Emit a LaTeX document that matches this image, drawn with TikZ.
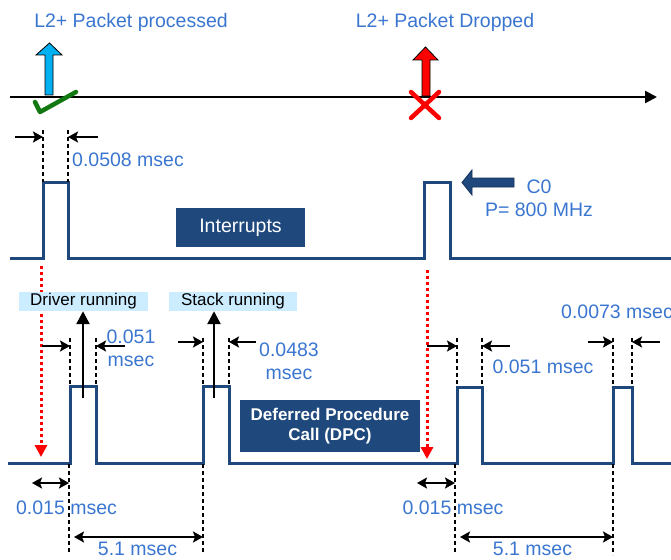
\documentclass[tikz,border=0pt]{standalone}
\usepackage{fontspec}
\setmainfont{Liberation Sans}
\usetikzlibrary{arrows.meta}
\definecolor{txtblue}{RGB}{58,118,208}
\definecolor{navy}{RGB}{31,73,125}
\definecolor{navyline}{RGB}{20,50,90}
\definecolor{lblue}{RGB}{204,236,255}
\definecolor{cyanA}{RGB}{0,176,240}
\definecolor{chk}{RGB}{18,120,18}
\tikzset{
  wave/.style={navy, line width=3pt, line join=miter},
  dimline/.style={black, line width=2pt, dash pattern=on 4pt off 3pt},
  dimarrow/.style={black, line width=2pt, -{Stealth[length=10pt,width=11pt,inset=2pt]}},
  dblarrow/.style={black, line width=2pt, {Stealth[length=10pt,width=11pt,inset=2pt]}-{Stealth[length=10pt,width=11pt,inset=2pt]}},
  uparrow/.style={black, line width=2.5pt, -{Triangle[length=13pt,width=13pt]}},
  redarrow/.style={red, line width=3pt, dash pattern=on 3pt off 3pt, -{Triangle[length=12pt,width=12pt]}},
  bluetxt/.style={text=txtblue, font=\fontsize{19.5}{23}\selectfont, inner sep=0pt, align=center},
  navybox/.style={fill=navy, text=white, inner sep=0pt, align=center},
  lbl/.style={fill=lblue, text=black, inner sep=0pt, font=\fontsize{17}{19}\selectfont},
}
\begin{document}
\begin{tikzpicture}[x=1pt,y=-1pt]
\useasboundingbox (0,0) rectangle (671,559);

% ---------- top timeline ----------
\coordinate (tl0) at (10,97);
\coordinate (tl1) at (657,97);
\draw[black, line width=2.5pt, -{Triangle[length=12pt,width=12pt]}] (tl0) -- (tl1);

\node[bluetxt] (lproc) at (131,22) {L2+ Packet processed};
\node[bluetxt] (ldrop) at (445,22) {L2+ Packet Dropped};

% blue block arrow
\draw[fill=cyanA, draw=black, line width=0.8pt]
  (45,95) -- (45,55) -- (36,55) -- (49.5,43) -- (62,55) -- (53,55) -- (53,95) -- cycle;
% green check
\draw[chk, line width=4.5pt, line cap=round, line join=round] (35,102) -- (40,112) -- (76,92);

% red block arrow
\draw[fill=red, draw=black, line width=0.8pt]
  (422,96) -- (422,60) -- (413,60) -- (425.5,47) -- (438,60) -- (430,60) -- (430,96) -- cycle;
% red cross
\draw[red, line width=4.5pt, line cap=round] (411,92) -- (439,118) (439,92) -- (411,118);

% ---------- interrupts ----------
\coordinate (ia) at (43,182);
\coordinate (ib) at (68,182);
\coordinate (ic) at (424,182);
\coordinate (id) at (450,182);
\draw[wave] (10,258) -- (43,258) -- (ia) -- (ib) -- (68,258) -- (424,258) -- (ic) -- (id) -- (450,258) -- (672,258);

\node[navybox, minimum width=129pt, minimum height=39pt, font=\fontsize{19.5}{23}\selectfont] (intr) at (240.5,227.5) {Interrupts};

% 0.0508 dimension
\coordinate (d1a) at (43,130);
\coordinate (d1b) at (68,130);
\draw[dimline] (d1a) -- (ia);
\draw[dimline] (d1b) -- (ib);
\coordinate (d1l) at (15,137);
\coordinate (d1r) at (98,137);
\draw[dimarrow] (d1l) -- (43,137);
\draw[dimarrow] (d1r) -- (68,137);
\node[bluetxt, anchor=west] (t0508) at (72,160) {0.0508 msec};

% C0 block arrow
\draw[fill=navy, draw=navyline, line width=0.8pt]
  (462,182.5) -- (472,170) -- (472,178) -- (514,178) -- (514,187) -- (472,187) -- (472,195) -- cycle;
\node[bluetxt] (c0) at (539,187) {C0};
\node[bluetxt] (pfreq) at (539,210) {P= 800 MHz};

% ---------- red dotted arrows ----------
\coordinate (r1s) at (41,266);
\coordinate (r1e) at (41,457);
\coordinate (r2s) at (427,270);
\coordinate (r2e) at (427,459);
\draw[redarrow] (r1s) -- (r1e);
\draw[redarrow] (r2s) -- (r2e);

% ---------- DPC waveform ----------
\draw[wave] (8,463) -- (70,463) -- (70,386) -- (96,386) -- (96,463) -- (203,463) -- (203,386) -- (229,386) -- (229,463)
  -- (457,463) -- (457,387) -- (482,387) -- (482,463) -- (613,463) -- (613,387) -- (632,387) -- (632,463) -- (672,463);

\node[navybox, minimum width=180pt, minimum height=52pt, font=\bfseries\fontsize{17}{20}\selectfont] (dpc) at (330,426) {Deferred Procedure\\Call (DPC)};

% labels
\node[lbl, minimum width=129pt, minimum height=19pt] (drv) at (83.5,301.5) {Driver running};
\node[lbl, minimum width=128pt, minimum height=19pt] (stk) at (233,301.5) {Stack running};
\coordinate (drvup) at (83,398);
\coordinate (stkup) at (214,398);
\draw[uparrow] (drvup) -- (drvup |- drv.south);
\draw[uparrow] (stkup) -- (stkup |- stk.south);

% driver dimension
\draw[dimline] (70,338) -- (70,386);
\draw[dimline] (96,338) -- (96,386);
\draw[dimarrow] (42,346) -- (70,346);
\draw[dimarrow] (125,346) -- (96,346);
\node[bluetxt] (t051a) at (131,348.5) {0.051\\msec};

% stack dimension
\draw[dimline] (203,338) -- (203,386);
\draw[dimline] (229,338) -- (229,386);
\draw[dimarrow] (178,342) -- (203,342);
\draw[dimarrow] (256,342) -- (229,342);
\node[bluetxt] (t0483) at (289,361) {0.0483\\msec};

% right driver dimension
\draw[dimline] (457,338) -- (457,387);
\draw[dimline] (482,338) -- (482,387);
\draw[dimarrow] (427,346) -- (457,346);
\draw[dimarrow] (510,346) -- (482,346);
\node[bluetxt] (t051b) at (543,367) {0.051 msec};

% right stack dimension
\draw[dimline] (613,338) -- (613,387);
\draw[dimline] (632,338) -- (632,387);
\draw[dimarrow] (588,342) -- (613,342);
\draw[dimarrow] (660,342) -- (632,342);
\node[bluetxt, anchor=west] (t0073) at (561,312) {0.0073 msec};

% ---------- bottom dimensions ----------
\draw[dimline] (69,464) -- (69,552);
\draw[dimline] (203,464) -- (203,554);
\draw[dblarrow] (32,483) -- (69,483);
\node[bluetxt] (t015a) at (66.5,508) {0.015 msec};
\draw[dblarrow] (74,537) -- (203,537);
\node[bluetxt] (t51a) at (137.5,549) {5.1 msec};

\draw[dimline] (455,464) -- (455,552);
\draw[dimline] (613,464) -- (613,555);
\draw[dblarrow] (417,483) -- (455,483);
\node[bluetxt] (t015b) at (453,508) {0.015 msec};
\draw[dblarrow] (460,537) -- (613,537);
\node[bluetxt] (t51b) at (532.5,549) {5.1 msec};
\end{tikzpicture}
\end{document}
